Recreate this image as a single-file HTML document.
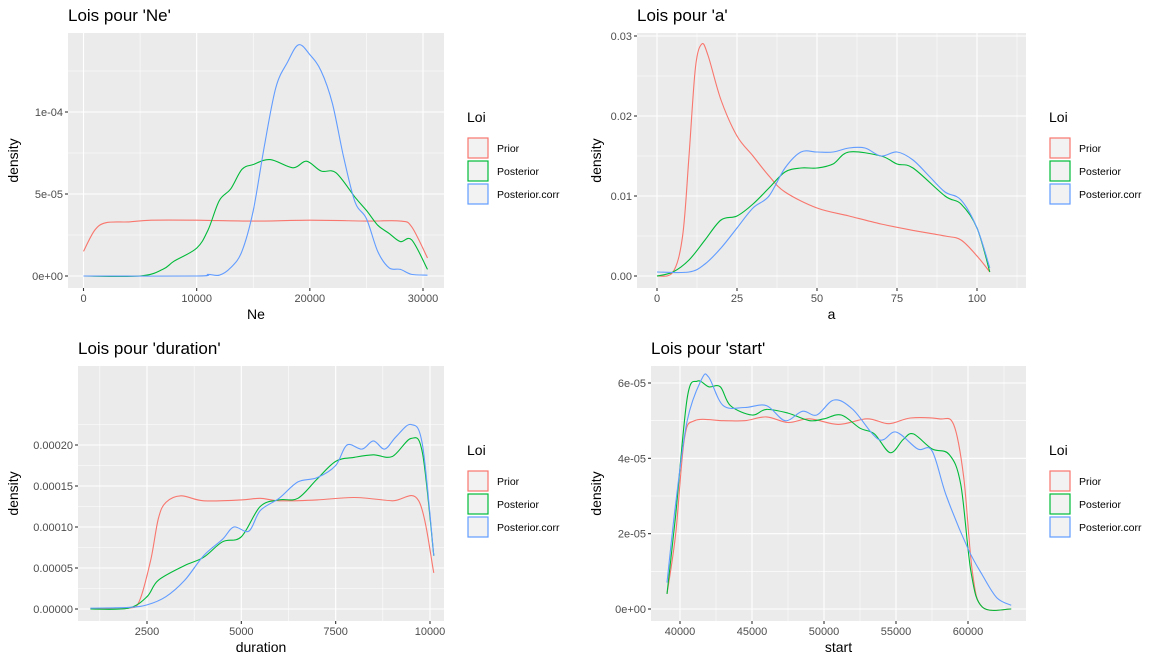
<!DOCTYPE html>
<html><head><meta charset="utf-8"><style>
body{margin:0;background:#fff;font-family:"Liberation Sans",sans-serif;}
svg text{font-family:"Liberation Sans",sans-serif;}
</style></head><body>
<svg id="c" width="1166" height="666" xmlns="http://www.w3.org/2000/svg"></svg>
<script>
// ---- Data: Ne (y in 1e-5 units) ----
const neXPrior=[0,1000,2000,4000,6000,10000,15000,20000,25000,28000,29000,30400];
const neYPrior=[1.5,2.8,3.25,3.3,3.4,3.4,3.35,3.4,3.35,3.35,3.0,1.1];
const neXPost=[0,5000,7000,8000,10000,11000,12000,13000,14000,15000,16500,18500,19700,21000,22300,24000,25000,26000,27000,28000,29000,30400];
const neYPost=[0,0,0.4,0.9,1.7,2.8,4.6,5.3,6.5,6.8,7.1,6.6,7.0,6.4,6.3,4.8,4.0,3.1,2.6,2.1,2.2,0.4];
const neXCorr=[0,10000,11000,12000,13000,14000,15000,16000,17000,18000,19000,20000,21000,22000,23000,24000,25000,26000,27000,28000,29000,30400];
const neYCorr=[0,0,0.1,0.05,0.5,1.5,4.0,8,11.5,13,14.1,13.5,12.5,10.5,7.2,4.5,3.5,1.5,0.5,0.4,0.1,0.05];
// ---- Data: a (y in 0.01 units) ----
const aXPrior=[0,5,8,10,12,14,16,20,25,30,35,40,50,60,70,80,90,95,100,104];
const aYPrior=[0,0.05,0.5,1.5,2.6,2.9,2.75,2.2,1.75,1.5,1.25,1.05,0.85,0.75,0.65,0.57,0.5,0.45,0.25,0.05];
const aXPost=[0,5,10,15,20,25,30,35,40,45,50,55,60,70,75,80,90,95,100,104];
const aYPost=[0,0.05,0.2,0.45,0.7,0.75,0.9,1.1,1.3,1.35,1.35,1.4,1.55,1.5,1.4,1.35,1.0,0.9,0.6,0.05];
const aXCorr=[0,10,15,20,25,30,35,40,45,50,55,60,65,70,75,80,85,90,95,100,104];
const aYCorr=[0.05,0.05,0.15,0.35,0.6,0.85,1.0,1.35,1.55,1.55,1.55,1.6,1.6,1.5,1.55,1.45,1.25,1.05,0.95,0.6,0.1];
// ---- Data: duration (y in 1e-5 units) ----
const dXPrior=[1000,2000,2300,2600,2800,3000,3400,4000,5000,5500,6000,7000,8000,9000,9700,10100];
const dYPrior=[0,0.1,1,6,11,13,13.8,13.2,13.3,13.5,13.2,13.3,13.6,13.2,13.2,4.4];
const dXPost=[1000,2000,2500,2800,3500,4000,4500,5000,5500,6000,6500,7000,7500,8000,8500,9000,9500,9800,10100];
const dYPost=[0,0.1,1.5,3.5,5.3,6.3,8.2,8.8,12.5,13.3,13.5,15.8,18.0,18.5,18.8,18.6,20.8,19,6.5];
const dXCorr=[1000,2000,2500,3000,3500,4000,4500,4800,5200,5500,6000,6500,7000,7500,7800,8200,8500,8800,9100,9500,9800,10100];
const dYCorr=[0.1,0.2,0.5,1.5,3.5,6.5,8.5,10,9.5,12,13.5,15.5,16,17.5,20,19.5,20.5,19.5,21,22.5,20,6.5];
// ---- Data: start (y in 1e-5 units) ----
const sXPrior=[39100,39700,40300,41000,43000,44500,46000,47500,49000,51000,53000,54500,56000,58000,59000,59700,60300,61000,63000];
const sYPrior=[0.4,2,4.5,5.0,5.0,5.0,5.1,4.95,5.05,4.9,5.05,4.92,5.07,5.05,4.9,3.5,1.0,0.05,0];
const sXPost=[39100,39700,40500,41200,42000,42800,43500,45000,46000,47500,49000,50000,51200,52500,53500,54600,55500,56200,57500,58700,59500,60200,61000,63000];
const sYPost=[0.4,2.5,5.6,6.05,5.9,5.9,5.4,5.15,5.3,5.2,5.0,5.05,5.15,4.8,4.65,4.15,4.5,4.65,4.25,4.1,3.3,1.0,0.05,0];
const sXCorr=[39100,39700,40500,41500,42000,43000,44500,46000,47300,48500,49500,50700,52000,53800,55000,56500,57500,58500,60000,61000,62000,63000];
const sYCorr=[0.7,2.8,5.0,6.1,6.15,5.4,5.35,5.4,5.0,5.25,5.15,5.55,5.3,4.5,4.7,4.25,4.2,3.0,1.6,0.9,0.3,0.1];
// tick labels
const neXTicks=[0,10000,20000,30000]; const neYTicks=[0,5,10]; const neYLabels=["0e+00","5e-05","1e-04"];
const aXTicks=[0,25,50,75,100]; const aYTicks=[0,1,2,3]; const aYLabels=["0.00","0.01","0.02","0.03"];
const dXTicks=[2500,5000,7500,10000]; const dYTicks=[0,5,10,15,20]; const dYLabels=["0.00000","0.00005","0.00010","0.00015","0.00020"];
const sXTicks=[40000,45000,50000,55000,60000]; const sYTicks=[0,2,4,6]; const sYLabels=["0e+00","2e-05","4e-05","6e-05"];
const seriesNames=["Prior","Posterior","Posterior.corr"];
const colors=["#F8766D","#00BA38","#619CFF"];

const NS="http://www.w3.org/2000/svg";
const svg=document.getElementById('c');
function mk(tag,attrs,parent){const e=document.createElementNS(NS,tag);for(const k in attrs)e.setAttribute(k,attrs[k]);(parent||svg).appendChild(e);return e;}
function smooth(pts){let d="M"+pts[0][0].toFixed(1)+","+pts[0][1].toFixed(1);
 for(let i=0;i<pts.length-1;i++){const p0=pts[i-1]||pts[i],p1=pts[i],p2=pts[i+1],p3=pts[i+2]||p2;
  const c1=[p1[0]+(p2[0]-p0[0])/6,p1[1]+(p2[1]-p0[1])/6],c2=[p2[0]-(p3[0]-p1[0])/6,p2[1]-(p3[1]-p1[1])/6];
  d+="C"+c1.map(v=>v.toFixed(1))+" "+c2.map(v=>v.toFixed(1))+" "+p2.map(v=>v.toFixed(1));}
 return d;}
function panel(cfg){
 const g=mk('g',{});
 
 
 const {px0,px1,py0,py1,xd,xr,yd,yr}=cfg;
 const sx=v=>xr[0]+(v-xd[0])/(xd[1]-xd[0])*(xr[1]-xr[0]);
 const sy=v=>yr[0]+(v-yd[0])/(yd[1]-yd[0])*(yr[1]-yr[0]);
 const bg=mk('rect',{x:px0,y:py0,width:px1-px0,height:py1-py0,fill:'#EBEBEB'},g);
 
 
 const xt=cfg.xTicks,yt=cfg.yTicks;
 const xm=[],ym=[];
 const dx=xt[1]-xt[0],dy=yt[1]-yt[0];
 for(let v=xt[0]-dx/2;v<=xt[xt.length-1]+dx;v+=dx){const p=sx(v);if(p>px0&&p<px1)xm.push(p);}
 for(let v=yt[0]-dy/2;v<=yt[yt.length-1]+dy;v+=dy){const p=sy(v);if(p>py0&&p<py1)ym.push(p);}
 xm.forEach(p=>mk('line',{x1:p,x2:p,y1:py0,y2:py1,stroke:'#fff','stroke-width':0.55},g));
 ym.forEach(p=>mk('line',{x1:px0,x2:px1,y1:p,y2:p,stroke:'#fff','stroke-width':0.55},g));
 xt.forEach(v=>{const p=sx(v);mk('line',{x1:p,x2:p,y1:py0,y2:py1,stroke:'#fff','stroke-width':1.1},g);
  mk('line',{x1:p,x2:p,y1:py1,y2:py1+3,stroke:'#333','stroke-width':1.1},g);
  const t=mk('text',{x:p,y:py1+14,'font-size':11,fill:'#4D4D4D','text-anchor':'middle'},g);t.textContent=String(v);
  
  });
 yt.forEach((v,i)=>{const p=sy(v);mk('line',{x1:px0,x2:px1,y1:p,y2:p,stroke:'#fff','stroke-width':1.1},g);
  mk('line',{x1:px0-3,x2:px0,y1:p,y2:p,stroke:'#333','stroke-width':1.1},g);
  const t=mk('text',{x:px0-5,y:p+4,'font-size':11,fill:'#4D4D4D','text-anchor':'end'},g);t.textContent=cfg.yLabels[i];
  
  });
 cfg.series.forEach((s,i)=>{const pts=s[0].map((x,j)=>[sx(x),sy(s[1][j])]);
  const path=mk('path',{d:smooth(pts),fill:'none',stroke:colors[i],'stroke-width':1.1},g);
  
  });
 const ti=mk('text',{x:px0,y:py0-12,'font-size':17,fill:'#000'},g);ti.textContent=cfg.title;
 
 
 const xa=mk('text',{x:(px0+px1)/2,y:py1+31,'font-size':14,'text-anchor':'middle'},g);xa.textContent=cfg.xlab;
 
 
 const yc=(py0+py1)/2,yx=cfg.ylabX;
 const ya=mk('text',{x:yx,y:yc,'font-size':14,'text-anchor':'middle',transform:`rotate(-90 ${yx} ${yc})`},g);ya.textContent='density';
 
 
 const lx=cfg.legX,ly=py0+89;
 const lt=mk('text',{x:lx,y:ly,'font-size':14},g);lt.textContent='Loi';
 
 
 seriesNames.forEach((n,i)=>{const y=ly+15+i*23;
  const r=mk('rect',{x:lx+1,y:y+1,width:20,height:20,fill:'#F2F2F2',stroke:colors[i],'stroke-width':1.2},g);
  
  
  const t=mk('text',{x:lx+30,y:y+15,'font-size':10.5,fill:'#000'},g);t.textContent=n;
  
  });
}
panel({name:'ne',title:"Lois pour 'Ne'",xlab:'Ne',px0:68,px1:444,py0:33,py1:288,xd:[0,30000],xr:[83.5,423],yd:[0,10],yr:[276,112],
 xTicks:neXTicks,yTicks:neYTicks,yLabels:neYLabels,ylabX:18,legX:467,
 series:[[neXPrior,neYPrior],[neXPost,neYPost],[neXCorr,neYCorr]]});
panel({name:'a',title:"Lois pour 'a'",xlab:'a',px0:637,px1:1026,py0:33,py1:288,xd:[0,100],xr:[657,977],yd:[0,3],yr:[276,36],
 xTicks:aXTicks,yTicks:aYTicks,yLabels:aYLabels,ylabX:601,legX:1049,
 series:[[aXPrior,aYPrior],[aXPost,aYPost],[aXCorr,aYCorr]]});
panel({name:'duration',title:"Lois pour 'duration'",xlab:'duration',px0:78,px1:444,py0:366,py1:621,xd:[2500,10000],xr:[147,430],yd:[0,20],yr:[609,445],
 xTicks:dXTicks,yTicks:dYTicks,yLabels:dYLabels,ylabX:18,legX:467,
 series:[[dXPrior,dYPrior],[dXPost,dYPost],[dXCorr,dYCorr]]});
panel({name:'start',title:"Lois pour 'start'",xlab:'start',px0:651,px1:1026,py0:366,py1:621,xd:[40000,60000],xr:[680,968],yd:[0,6],yr:[609,383],
 xTicks:sXTicks,yTicks:sYTicks,yLabels:sYLabels,ylabX:601,legX:1049,
 series:[[sXPrior,sYPrior],[sXPost,sYPost],[sXCorr,sYCorr]]});
</script>
</body></html>
